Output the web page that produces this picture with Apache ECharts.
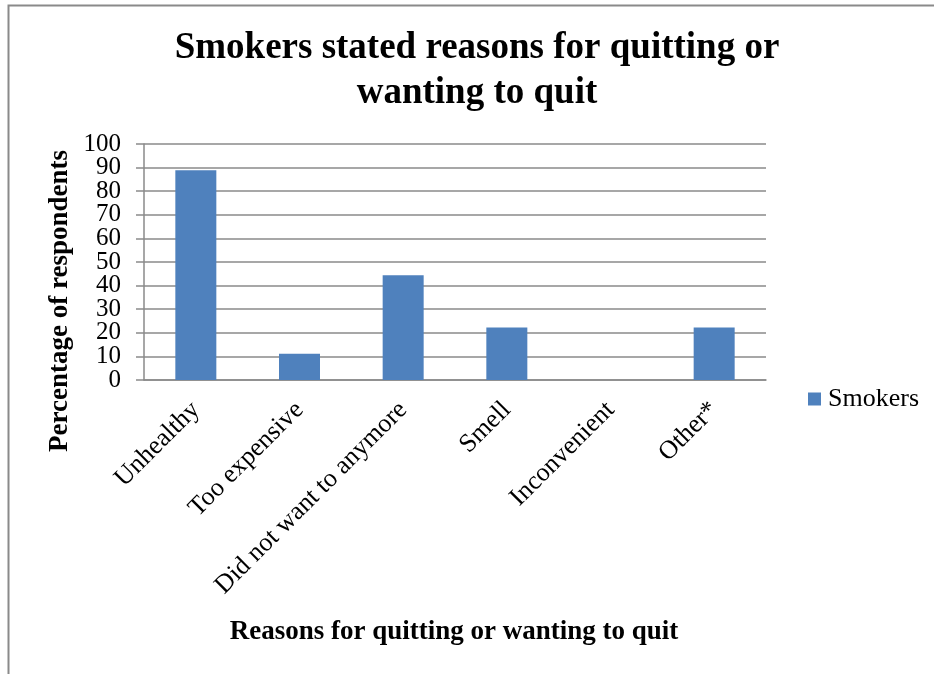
<!DOCTYPE html>
<html>
<head>
<meta charset="utf-8">
<script src="https://cdn.jsdelivr.net/npm/echarts@6/dist/echarts.min.js"></script>
<style>
  html, body { margin: 0; padding: 0; background: #fff; }
  #chart { width: 934px; height: 674px; }
</style>
</head>
<body>
<div id="chart"></div>
<script>
// Reasons given by smokers for quitting (percentage of respondents)
const categories = ['Unhealthy', 'Too expensive', 'Did not want to anymore', 'Smell', 'Inconvenient', 'Other*'];
const smokers = [88.9, 11.1, 44.4, 22.2, 0, 22.2];
const yTicks = ['0', '10', '20', '30', '40', '50', '60', '70', '80', '90', '100'];
const seriesName = 'Smokers';
const chartTitle = 'Smokers stated reasons for quitting or\nwanting to quit';
const xAxisTitle = 'Reasons for quitting or wanting to quit';
const yAxisTitle = 'Percentage of respondents';

const serif = '"Liberation Serif", "Times New Roman", serif';
const gridColor = '#8a8a8a';

const chart = echarts.init(document.getElementById('chart'), null, { renderer: 'canvas' });

chart.setOption({
  backgroundColor: '#fff',
  animation: false,
  grid: { left: 144, right: 168, top: 144, bottom: 294, containLabel: false },
  legend: {
    data: [seriesName],
    left: 808,
    top: 386,
    padding: 0,
    orient: 'vertical',
    icon: 'rect',
    itemWidth: 13,
    itemHeight: 13,
    itemGap: 6,
    textStyle: { fontFamily: serif, fontSize: 26, color: '#000', padding: [0, 0, 0, 2] }
  },
  xAxis: {
    type: 'category',
    data: categories,
    axisLine: { show: true, lineStyle: { color: gridColor, width: 1.5 } },
    axisTick: { show: false },
    axisLabel: {
      rotate: 45,
      margin: 26,
      interval: 0,
      fontFamily: serif,
      fontSize: 26,
      color: '#000'
    }
  },
  yAxis: [
    {
      // value scale used by the bars
      type: 'value',
      min: 0,
      max: 100,
      interval: 10,
      axisLine: { show: true, lineStyle: { color: gridColor, width: 1.5 } },
      axisTick: { show: true, length: 8, lineStyle: { color: gridColor, width: 1.5 } },
      splitLine: { show: true, lineStyle: { color: gridColor, width: 1.5 } },
      axisLabel: { show: false }
    },
    {
      // tick labels, one per gridline, all kept visible
      type: 'category',
      data: yTicks,
      position: 'left',
      boundaryGap: false,
      axisLine: { show: false },
      axisTick: { show: false },
      splitLine: { show: false },
      axisLabel: {
        interval: 0,
        margin: 23,
        fontFamily: serif,
        fontSize: 25,
        color: '#000'
      }
    }
  ],
  series: [{
    name: seriesName,
    type: 'bar',
    yAxisIndex: 0,
    data: smokers,
    barWidth: 41,
    itemStyle: { color: '#4F81BD' }
  }],
  graphic: [
    // frame around the chart area
    {
      type: 'polyline',
      shape: { points: [[8.5, 674], [8.5, 5.5], [934, 5.5]] },
      style: { stroke: '#8a8a8a', lineWidth: 2, fill: null },
      silent: true
    },
    {
      type: 'text',
      style: {
        x: 477, y: 26,
        text: chartTitle,
        textAlign: 'center',
        textVerticalAlign: 'top',
        font: 'bold 37px ' + serif,
        lineHeight: 45,
        fill: '#000'
      }
    },
    {
      type: 'text',
      style: {
        x: 454, y: 632,
        text: xAxisTitle,
        textAlign: 'center',
        textVerticalAlign: 'middle',
        font: 'bold 27px ' + serif,
        fill: '#000'
      }
    },
    {
      type: 'text',
      x: 60, y: 301,
      rotation: Math.PI / 2,
      style: {
        x: 0, y: 0,
        text: yAxisTitle,
        textAlign: 'center',
        textVerticalAlign: 'middle',
        font: 'bold 27px ' + serif,
        fill: '#000'
      }
    }
  ]
});
</script>
</body>
</html>
